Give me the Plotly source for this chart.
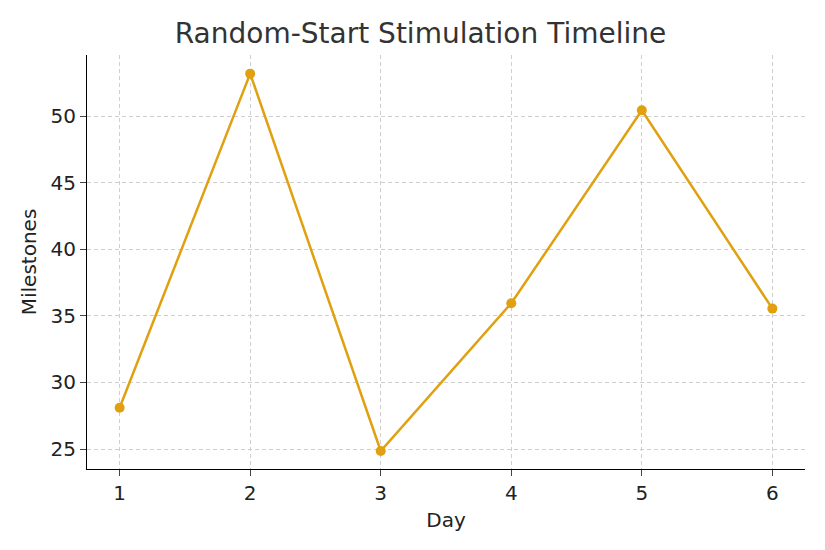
import plotly.graph_objects as go

days = [1, 2, 3, 4, 5, 6]
milestones = [28.1, 53.2, 24.85, 35.95, 50.45, 35.55]

fig = go.Figure(go.Scatter(x=days, y=milestones, mode="lines+markers",
    line=dict(color="#E0A010", width=2.5), marker=dict(size=10, color="#E0A010")))
ax = dict(showline=True, linecolor="black", linewidth=1.2, ticks="outside", ticklen=6,
          showgrid=True, gridcolor="#cfcfcf", griddash="4px,3px", gridwidth=1, zeroline=False,
          tickfont=dict(size=20, color="#222"))
fig.update_layout(
    width=825, height=550, plot_bgcolor="white", paper_bgcolor="white",
    font=dict(family="DejaVu Sans", color="#222"),
    title=dict(text="Random-Start Stimulation Timeline", x=0.5, xanchor="center", y=0.955, yanchor="middle",
               font=dict(size=28, color="#333")),
    margin=dict(l=79, r=28, t=47, b=89),
    xaxis=dict(ax, range=[0.75, 6.25], tickvals=days,
               title=dict(text="Day", font=dict(size=20), standoff=8)),
    yaxis=dict(ax, range=[23.5, 54.6], tickvals=[25, 30, 35, 40, 45, 50],
               title=dict(text="Milestones", font=dict(size=20), standoff=8)),
    showlegend=False,
)
fig.write_html("out.html")
